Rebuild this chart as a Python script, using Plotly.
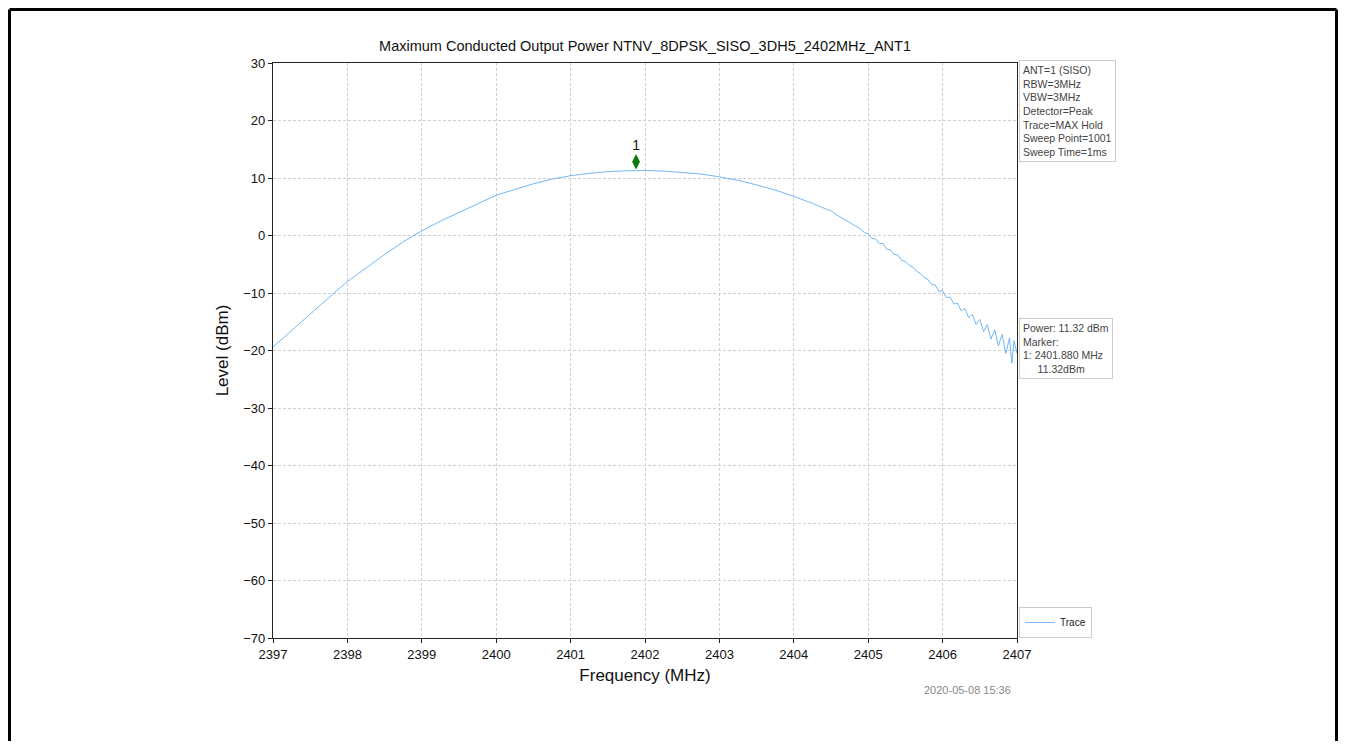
import plotly.graph_objects as go

# ---- data ----
freq_smooth = [2397.00, 2397.25, 2397.50, 2397.75, 2398.00, 2398.25, 2398.50, 2398.75,
               2399.00, 2399.25, 2399.50, 2399.75, 2400.00, 2400.25, 2400.50, 2400.75,
               2401.00, 2401.25, 2401.50, 2401.75, 2401.88, 2402.00, 2402.25, 2402.50,
               2402.75, 2403.00, 2403.25, 2403.50, 2403.75, 2404.00, 2404.25, 2404.45]
level_smooth = [-19.4, -16.5, -13.6, -10.8, -8.0, -5.6, -3.3, -1.1,
                0.8, 2.5, 4.0, 5.5, 7.0, 8.0, 9.0, 9.8,
                10.4, 10.8, 11.1, 11.25, 11.32, 11.3, 11.2, 11.0,
                10.7, 10.2, 9.6, 8.8, 7.9, 6.8, 5.6, 4.5]

freq_noisy = [2404.50, 2404.55, 2404.60, 2404.65, 2404.70, 2404.75, 2404.80, 2404.85,
              2404.90, 2404.95, 2405.00, 2405.05, 2405.10, 2405.15, 2405.20, 2405.25,
              2405.30, 2405.35, 2405.40, 2405.45, 2405.50, 2405.55, 2405.60, 2405.65,
              2405.70, 2405.75, 2405.80, 2405.85, 2405.90, 2405.95, 2406.00, 2406.05,
              2406.10, 2406.15, 2406.20, 2406.25, 2406.30, 2406.35, 2406.40, 2406.45,
              2406.50, 2406.55, 2406.60, 2406.65, 2406.70, 2406.75, 2406.80, 2406.85,
              2406.90, 2406.93, 2406.96, 2407.00]
level_noisy = [4.3, 3.8, 3.4, 3.0, 2.7, 2.3, 1.9, 1.4,
               1.1, 0.5, 0.3, -0.5, -0.6, -1.4, -1.4, -2.4,
               -2.5, -3.3, -3.4, -4.3, -4.5, -5.2, -5.5, -6.2,
               -6.6, -7.3, -7.6, -8.5, -8.6, -9.7, -9.6, -10.8,
               -10.7, -11.9, -11.8, -13.1, -12.7, -14.3, -13.7, -15.5,
               -14.6, -16.7, -15.5, -18.0, -16.4, -19.2, -17.2, -20.5,
               -17.8, -22.2, -18.3, -20.5]

marker_freq = 2401.88
marker_level = 11.32
marker_label = "1"

x_ticks = [2397, 2398, 2399, 2400, 2401, 2402, 2403, 2404, 2405, 2406, 2407]
y_ticks = [30, 20, 10, 0, -10, -20, -30, -40, -50, -60, -70]

settings_lines = ["ANT=1 (SISO)", "RBW=3MHz", "VBW=3MHz", "Detector=Peak",
                  "Trace=MAX Hold", "Sweep Point=1001", "Sweep Time=1ms"]
result_lines = ["Power: 11.32 dBm", "Marker:", "1: 2401.880 MHz",
                "\u00a0\u00a0\u00a0\u00a0\u00a011.32dBm"]
title_text = "Maximum Conducted Output Power NTNV_8DPSK_SISO_3DH5_2402MHz_ANT1"
timestamp = "2020-05-08 15:36"

# ---- figure ----
FONT = "Liberation Sans, Arial, sans-serif"
OFF = 8  # page body margin offset
W, H = 1346 - 2 * OFF, 749 - 2 * OFF
L, R, T, B = 273 - OFF, 1017 - OFF, 63 - OFF, 638 - OFF
pw, ph = R - L, B - T


def px(xp):
    return (xp - OFF - L) / pw


def py(yp):
    return (B - (yp - OFF)) / ph


fig = go.Figure()
fig.add_trace(go.Scatter(
    x=freq_smooth + freq_noisy, y=level_smooth + level_noisy,
    mode="lines", name="Trace",
    line=dict(color="rgb(80,165,240)", width=0.8),
))
fig.add_trace(go.Scatter(
    x=[marker_freq], y=[marker_level + 1.5], mode="markers+text",
    marker=dict(symbol="diamond-tall", color="#0a7a0a", size=11),
    text=[marker_label], textposition="top center",
    textfont=dict(size=14, color="#111", family=FONT),
    showlegend=False, hoverinfo="skip",
))

axis_common = dict(
    showline=True, linecolor="#222", linewidth=1.2, mirror=True,
    ticks="outside", ticklen=4, tickcolor="#222",
    showgrid=True, gridcolor="#cfcfcf", griddash="3px,2px", gridwidth=1,
    zeroline=False, tickfont=dict(size=13, color="#111", family=FONT),
)

fig.update_layout(
    width=W, height=H,
    margin=dict(l=L, r=W - R, t=T, b=H - B, autoexpand=False),
    paper_bgcolor="white", plot_bgcolor="white",
    font=dict(family=FONT),
    title=dict(text=title_text, x=(L + pw / 2) / W, xanchor="center",
               y=1 - (46 - OFF) / H, yanchor="middle",
               font=dict(size=14.5, color="#111", family=FONT)),
    xaxis=dict(range=[2397, 2407], tickvals=x_ticks,
               title=dict(text="Frequency (MHz)", font=dict(size=17, color="#111"), standoff=8),
               **axis_common),
    yaxis=dict(range=[-70, 30], tickvals=y_ticks,
               title=dict(text="Level (dBm)", font=dict(size=17, color="#111"), standoff=10),
               **axis_common),
    showlegend=True,
    legend=dict(x=px(1019), y=py(638), xanchor="left", yanchor="bottom",
                bordercolor="#cccccc", borderwidth=1, bgcolor="white",
                font=dict(size=10, color="#222", family=FONT),
                itemwidth=30, tracegroupgap=0),
)

fig.add_annotation(
    xref="paper", yref="paper", x=px(1019), y=py(60), xanchor="left", yanchor="top",
    text="<br>".join(settings_lines), align="left", showarrow=False,
    font=dict(size=10.5, color="#444", family=FONT),
    bordercolor="#cccccc", borderwidth=1, borderpad=3, bgcolor="white",
)
fig.add_annotation(
    xref="paper", yref="paper", x=px(1019), y=py(318), xanchor="left", yanchor="top",
    text="<br>".join(result_lines), align="left", showarrow=False,
    font=dict(size=10.5, color="#444", family=FONT),
    bordercolor="#cccccc", borderwidth=1, borderpad=3, bgcolor="white",
)
fig.add_annotation(
    xref="paper", yref="paper", x=px(967), y=py(690), xanchor="center", yanchor="middle",
    text=timestamp, showarrow=False,
    font=dict(size=11, color="#888", family=FONT),
)

# outer frame of the page (left, top, right only; bottom is off the picture)
fx0, fx1 = px(OFF + 1.5), px(OFF + W - 1.5)
fy_top, fy_bot = py(OFF + 1.5), py(OFF + H)
for (x0, y0, x1, y1) in [(fx0, fy_bot, fx0, fy_top), (fx0, fy_top, fx1, fy_top),
                         (fx1, fy_top, fx1, fy_bot)]:
    fig.add_shape(type="line", xref="paper", yref="paper", x0=x0, y0=y0, x1=x1, y1=y1,
                  line=dict(color="black", width=3), layer="above")

fig.write_html("out.html")
